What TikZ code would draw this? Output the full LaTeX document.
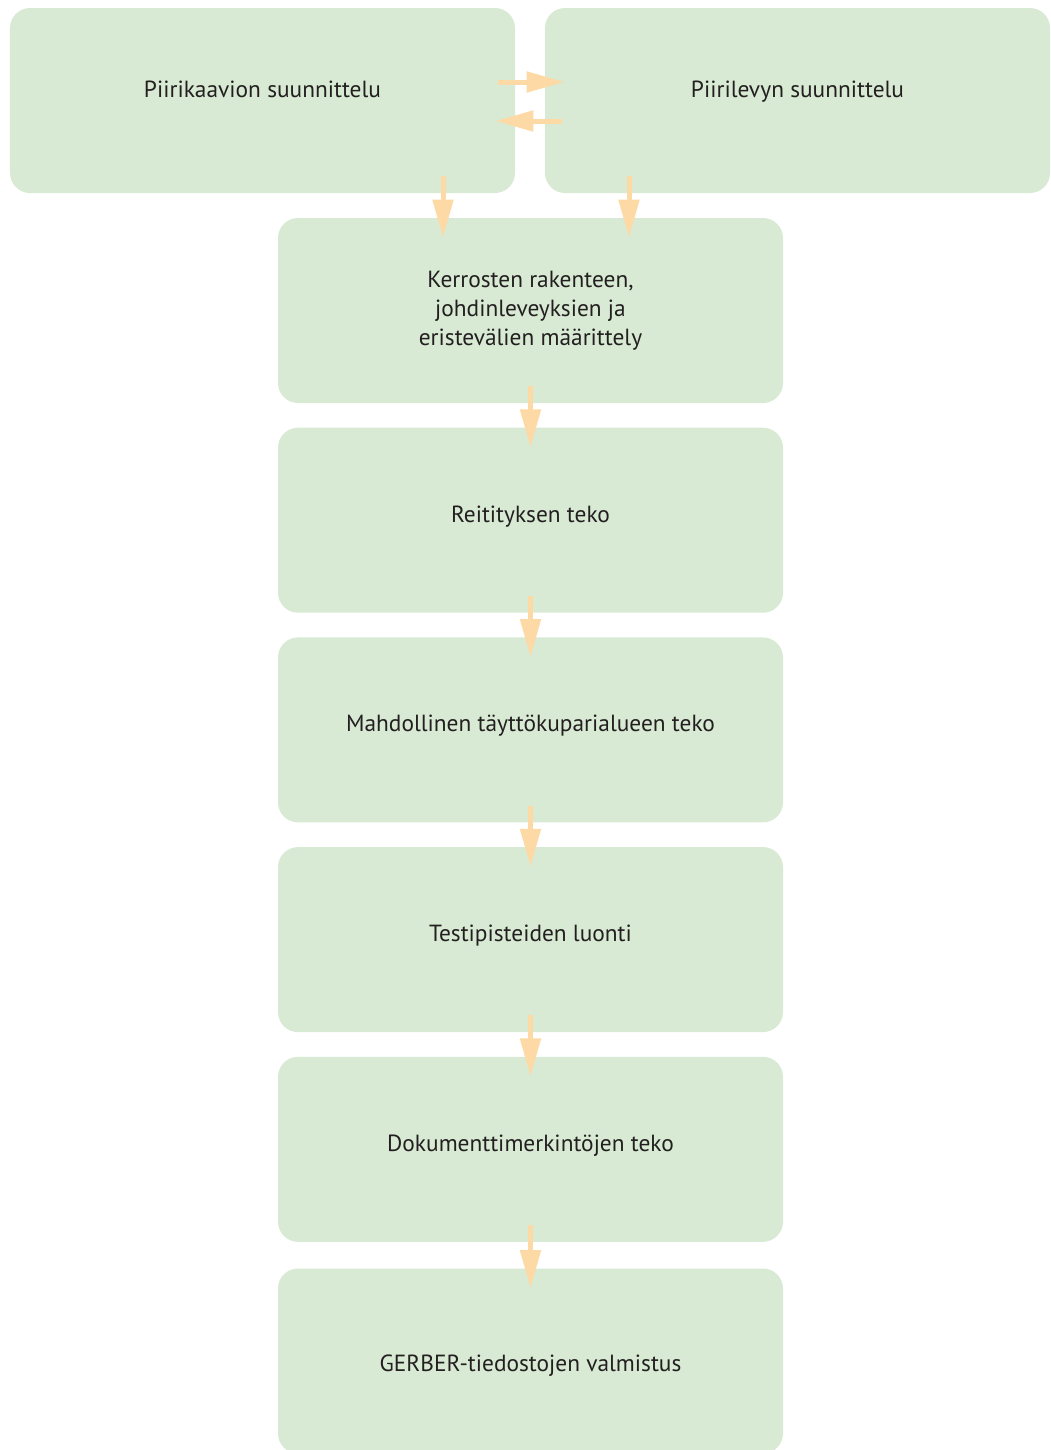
\documentclass[tikz,border=0pt]{standalone}
\usepackage{fontspec}
\setmainfont{PT Sans}
\usetikzlibrary{positioning,arrows.meta,calc}

\definecolor{boxgreen}{RGB}{216,234,212}
\definecolor{arrowpeach}{RGB}{253,217,166}
\definecolor{inkdark}{RGB}{35,31,32}

\begin{document}
\begin{tikzpicture}[
    stepbox/.style = {fill = boxgreen, rounded corners = 0.4cm, minimum width = 10.1cm,
                      minimum height = 3.7cm, text = inkdark, font = \fontsize{13.3}{16.6}\selectfont,
                      align = center, inner sep = 0pt},
    raised/.style = {text height = 0.32cm, text depth = #1},
    raised/.default = 0.24cm,
    lowered/.style = {text height = 0.5cm, text depth = 0.08cm},
    flow/.style = {line width = 0.1cm, arrowpeach, -{Triangle[length = 0.76cm, width = 0.4cm]},
                   shorten <= -0.34cm, shorten >= -0.4cm}
]
    \useasboundingbox (0, 0) rectangle (21, -29);
    \begin{scope}
    \clip (0, 0) rectangle (21, -29);

    %%%%%%%%%% top row %%%%%%%%%%
    \node [stepbox, raised = 0.45cm] (schem) at (5.25, -2.01) {Piirikaavion suunnittelu};
    \node [stepbox, raised = 0.45cm] (board) at (15.95, -2.01) {Piirilevyn suunnittelu};

    %%%%%%%%%% main column %%%%%%%%%%
    \node [stepbox] (layers) at (10.61, -6.21) {Kerrosten rakenteen,\\johdinleveyksien ja\\eristevälien määrittely};
    \node [stepbox, raised, below = 0.48cm of layers] (route) {Reitityksen teko};
    \node [stepbox, raised, below = 0.48cm of route] (pour) {Mahdollinen täyttökuparialueen teko};
    \node [stepbox, raised, below = 0.48cm of pour] (testpts) {Testipisteiden luonti};
    \node [stepbox, raised, below = 0.48cm of testpts] (docs) {Dokumenttimerkintöjen teko};
    \node [stepbox, lowered, below = 0.52cm of docs] (gerber) {GERBER-tiedostojen valmistus};

    %%%%%%%%%% connectors %%%%%%%%%%
    \draw [flow] ([yshift = 0.37cm]schem.east)  --  ([yshift = 0.37cm]board.west);
    \draw [flow] ([yshift = -0.41cm]board.west)  --  ([yshift = -0.41cm]schem.east);
    \draw [flow] ([xshift = 3.61cm]schem.south)  --  ([xshift = 3.61cm]schem.south |- layers.north);
    \draw [flow] ([xshift = -3.37cm]board.south)  --  ([xshift = -3.37cm]board.south |- layers.north);

    \foreach \a/\b in {layers/route, route/pour, pour/testpts, testpts/docs, docs/gerber} {
        \draw [flow] (\a)  --  (\b);
    }
    \end{scope}
\end{tikzpicture}
\end{document}
